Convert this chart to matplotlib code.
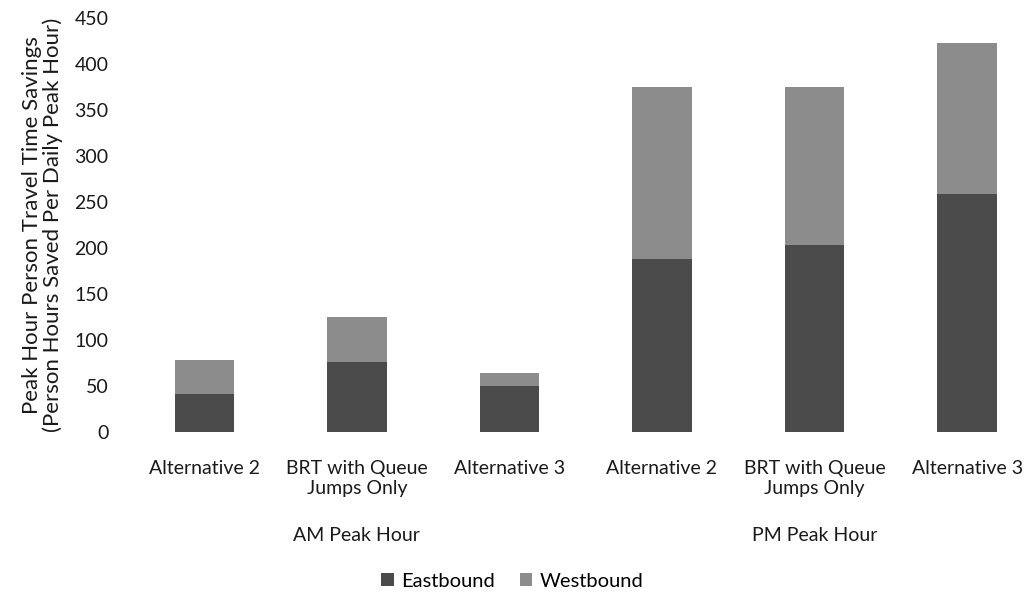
import numpy as np
import matplotlib.pyplot as plt

plt.rcParams['font.family'] = ['Lato', 'DejaVu Sans']

categories = ['Alternative 2', 'BRT with Queue\nJumps Only', 'Alternative 3',
              'Alternative 2', 'BRT with Queue\nJumps Only', 'Alternative 3']
groups = ['AM Peak Hour', 'PM Peak Hour']
eastbound = [41, 76, 50, 188, 203, 259]
westbound = [37, 49, 14, 187, 172, 164]

col_east = '#4b4b4b'
col_west = '#8c8c8c'
txt = '#1a1a1a'

fig = plt.figure(figsize=(10.32, 5.93), dpi=100)
ax = fig.add_axes([0.124, 0.2715, 0.887, 0.698])

x = np.arange(len(categories))
ax.bar(x, eastbound, width=0.39, color=col_east, label='Eastbound')
ax.bar(x, westbound, width=0.39, bottom=eastbound, color=col_west, label='Westbound')

ax.set_xlim(-0.5, len(categories) - 0.5)
ax.set_ylim(0, 450)
ax.set_yticks(np.arange(0, 451, 50))
ax.set_xticks(x)
ax.set_xticklabels(categories, fontsize=14, color=txt, linespacing=1.25)
ax.tick_params(axis='both', length=0, labelsize=14, colors=txt)
ax.tick_params(axis='x', pad=20)
ax.tick_params(axis='y', pad=14)
for s in ax.spines.values():
    s.set_visible(False)

for i, g in enumerate(groups):
    ax.text(1 + 3 * i, -0.25, g, transform=ax.get_xaxis_transform(),
            ha='center', va='center', fontsize=14, color=txt)

ax.set_ylabel('Peak Hour Person Travel Time Savings\n(Person Hours Saved Per Daily Peak Hour)',
              fontsize=16, color=txt, labelpad=8, linespacing=1.05)

lg = ax.legend(loc='center', bbox_to_anchor=(0.42, -0.36), ncol=2, frameon=False,
               fontsize=14.5, handlelength=0.6, handleheight=0.6, handletextpad=0.4,
               columnspacing=1.2)

plt.savefig('out.png', dpi=100)
